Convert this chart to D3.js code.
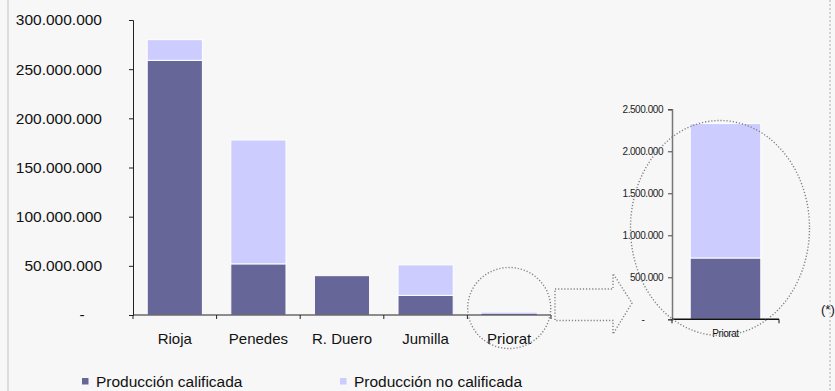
<!DOCTYPE html>
<html>
<head>
<meta charset="utf-8">
<script src="https://cdn.jsdelivr.net/npm/d3@7/dist/d3.min.js"></script>
<style>
  html, body { margin: 0; padding: 0; background: #f7f7f7; }
  svg { display: block; font-family: "Liberation Sans", Arial, sans-serif; }
</style>
</head>
<body>
<svg id="chart" width="835" height="391"></svg>
<script>
// Wine production by denomination (litres)
const categories = ["Rioja", "Penedes", "R. Duero", "Jumilla", "Priorat"];
const calificada = [259000000, 52000000, 40000000, 20000000, 730000];
const noCalificada = [21000000, 126000000, 0, 31000000, 1600000];
const mainTicks = [0, 50000000, 100000000, 150000000, 200000000, 250000000, 300000000];
const insetTicks = [0, 500000, 1000000, 1500000, 2000000, 2500000];
const seriesNames = ["Producción calificada", "Producción no calificada"];
const colors = ["#666699", "#ccccff"];

const svg = d3.select("#chart");
const fmt = d => d === 0 ? "-" : d3.format(",")(d).replace(/,/g, ".");

// frame
svg.append("rect").attr("x", 0).attr("y", 0).attr("width", 835).attr("height", 391).attr("fill", "#f7f7f7");
svg.append("line").attr("x1", 8).attr("x2", 8).attr("y1", 0).attr("y2", 391)
  .attr("stroke", "#dcdcdc").attr("stroke-width", 2);
svg.append("line").attr("x1", 830).attr("x2", 830).attr("y1", 0).attr("y2", 391)
  .attr("stroke", "#c8c8c8").attr("stroke-width", 1.5).attr("stroke-dasharray", "2,2");

const rows = categories.map((c, i) => ({ cat: c, cal: calificada[i], nocal: noCalificada[i] }));
const stack = d3.stack().keys(["cal", "nocal"])(rows);

// ---- main chart ----
const x = d3.scaleBand().domain(categories).range([133, 551]).paddingInner(0.34).paddingOuter(0.17);
const y = d3.scaleLinear().domain([0, 300000000]).range([315, 20]);

const main = svg.append("g");
stack.forEach((layer, li) => {
  main.append("g").selectAll("rect").data(layer).join("rect")
    .attr("x", d => x(d.data.cat))
    .attr("width", x.bandwidth())
    .attr("y", d => y(d[1]))
    .attr("height", d => Math.max(0, y(d[0]) - y(d[1])))
    .attr("fill", colors[li])
    .attr("stroke", "#ffffff")
    .attr("stroke-width", d => (y(d[0]) - y(d[1])) > 4 ? 1 : 0);
});

const yAxis = main.append("g").attr("transform", "translate(133,0)")
  .call(d3.axisLeft(y).tickValues(mainTicks).tickSize(4).tickPadding(27).tickFormat(fmt));
yAxis.selectAll("text").attr("font-size", "15.5px").attr("fill", "#111").attr("font-family", "Liberation Sans, Arial, sans-serif");
yAxis.selectAll(".tick").filter(d => d === 0).select("text").attr("text-anchor", "middle").attr("x", -51);
yAxis.selectAll("line, path").attr("stroke", "#222");

const gap = (x.step() - x.bandwidth()) / 2;
const bounds = categories.map(c => x(c) - gap).concat([x(categories[categories.length - 1]) + x.bandwidth() + gap]);
const xAxis = main.append("g");
xAxis.append("line").attr("x1", 133).attr("x2", bounds[bounds.length - 1]).attr("y1", y(0)).attr("y2", y(0))
  .attr("stroke", "#222");
xAxis.selectAll("line.tk").data(bounds).join("line").attr("class", "tk")
  .attr("x1", d => d).attr("x2", d => d).attr("y1", y(0)).attr("y2", y(0) + 4).attr("stroke", "#222");
xAxis.selectAll("text").data(categories).join("text")
  .attr("x", d => x(d) + x.bandwidth() / 2).attr("y", 344)
  .attr("text-anchor", "middle").attr("font-size", "15px").attr("fill", "#111")
  .text(d => d);

// ---- inset: Priorat detail ----
const priorat = rows.filter(r => r.cat === "Priorat");
const xi = d3.scaleBand().domain(["Priorat"]).range([672, 779]).paddingInner(0).paddingOuter(0.258);
const yi = d3.scaleLinear().domain([0, 2500000]).range([319.3, 109.3]);
const stackI = d3.stack().keys(["cal", "nocal"])(priorat);

const inset = svg.append("g");
stackI.forEach((layer, li) => {
  inset.append("g").selectAll("rect").data(layer).join("rect")
    .attr("x", d => xi(d.data.cat))
    .attr("width", xi.bandwidth())
    .attr("y", d => yi(d[1]))
    .attr("height", d => yi(d[0]) - yi(d[1]))
    .attr("fill", colors[li])
    .attr("stroke", "#ffffff").attr("stroke-width", 1);
});
const yAxisI = inset.append("g").attr("transform", "translate(672,0)")
  .call(d3.axisLeft(yi).tickValues(insetTicks).tickSize(4).tickPadding(5).tickFormat(fmt));
yAxisI.selectAll("text").attr("font-size", "10px").attr("letter-spacing", "-0.45px").attr("fill", "#222")
  .attr("font-family", "Liberation Sans, Arial, sans-serif");
yAxisI.selectAll(".tick").filter(d => d === 0).select("text").attr("text-anchor", "middle").attr("x", -29);
yAxisI.select("path").attr("stroke", "#777").attr("stroke-width", 1.5);
yAxisI.selectAll("line").attr("stroke", "#444");
inset.append("line").attr("x1", 672).attr("x2", 779).attr("y1", yi(0)).attr("y2", yi(0)).attr("stroke", "#111").attr("stroke-width", 1.5);
inset.selectAll("line.tki").data([672, 779]).join("line").attr("class", "tki")
  .attr("x1", d => d).attr("x2", d => d).attr("y1", yi(0)).attr("y2", yi(0) + 4).attr("stroke", "#111");
inset.append("text").attr("x", xi("Priorat") + xi.bandwidth() / 2).attr("y", 337)
  .attr("text-anchor", "middle").attr("font-size", "10px").attr("letter-spacing", "-0.45px").attr("fill", "#111")
  .text("Priorat");

svg.append("text").attr("x", 821).attr("y", 314).attr("font-size", "13px").attr("fill", "#111").text("(*)");

// ---- dotted callouts ----
const dotted = sel => sel.attr("fill", "none").attr("stroke", "#808080").attr("stroke-width", 1.4)
  .attr("stroke-dasharray", "1.2,1.9");
const pcx = x("Priorat") + x.bandwidth() / 2;
svg.append("ellipse").attr("cx", pcx).attr("cy", 308).attr("rx", 41.5).attr("ry", 40.5).call(dotted);
svg.append("ellipse").attr("cx", 720).attr("cy", 228).attr("rx", 89.5).attr("ry", 107.5).call(dotted);
svg.append("path")
  .attr("d", "M555,289 L613,289 L613,273.5 L632,303 L613,334 L613,320.5 L555,320.5 Z")
  .call(dotted);

// ---- legend ----
const legend = svg.append("g");
[82, 340].forEach((lx, i) => {
  legend.append("rect").attr("x", lx).attr("y", 378).attr("width", 6.5).attr("height", 6.5).attr("fill", colors[i]);
  legend.append("text").attr("x", lx + 14).attr("y", 387).attr("font-size", "15.5px").attr("fill", "#111")
    .text(seriesNames[i]);
});
</script>
</body>
</html>
